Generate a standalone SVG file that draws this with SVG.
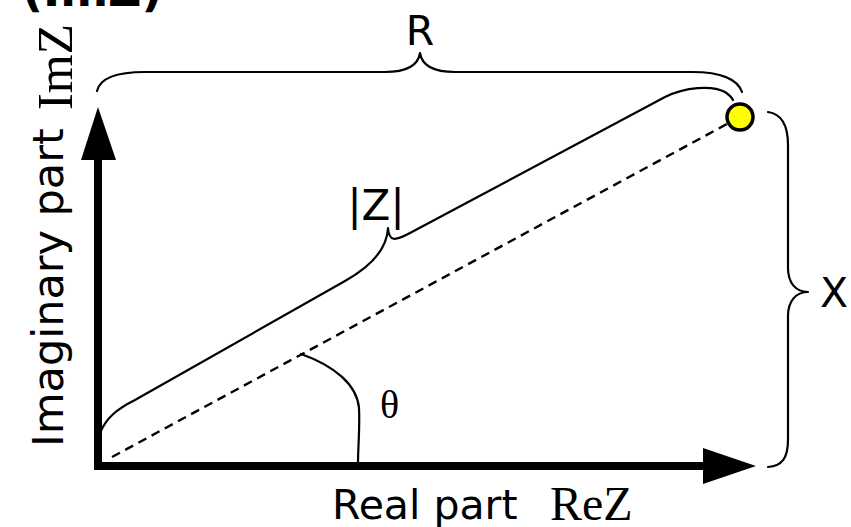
<svg xmlns="http://www.w3.org/2000/svg" width="851" height="527" viewBox="0 0 851 527">
  <style>
    .sans { font-family: "DejaVu Sans", Verdana, sans-serif; fill: #000; }
    .serif { font-family: "Liberation Serif", "Times New Roman", serif; fill: #000; }
    .brace { fill: none; stroke: #000; stroke-width: 2.2; stroke-linecap: round; stroke-linejoin: round; }
    .axis { stroke: #000; stroke-width: 8; }
    .dash { fill: none; stroke: #000; stroke-width: 2.4; stroke-dasharray: 9 6; }
  </style>
  <rect width="851" height="527" fill="#fff"/>

  <g id="title">
    <text class="sans" x="22" y="6" font-size="46" font-weight="bold">(ImZ)</text>
  </g>

  <g id="connectors">
    <line class="dash" x1="112" y1="457" x2="727" y2="124"/>
    <path id="brace-R" class="brace" d="M 97,91 C 100,78 115,72 145,72 L 385,72 C 405,72 418,66 420,53 C 422,66 435,72 455,72 L 692,72 C 722,72 738,80 742,92"/>
    <path id="brace-Z" class="brace" d="M 100,433 C 106,418 117,409 135,400 L 345,281 C 370,267 387,250 388,228 C 389,242 395,241 410,233 L 665,97 C 685,87 712,85 725,92 Q 731,96 733,100"/>
    <path id="brace-X" class="brace" d="M 768,112 C 782,114 788,125 788,145 L 788,268 C 788,283 796,292 808,292 C 796,292 788,301 788,316 L 788,440 C 788,458 782,466 768,467"/>
    <path id="theta-arc" class="brace" d="M 301,354 C 335,366 357,385 359,408 C 360,428 358,446 358,464"/>
  </g>

  <g id="axes">
    <line class="axis" x1="98" y1="470" x2="98" y2="150"/>
    <polygon points="98,107 81,160 116,160" fill="#000"/>
    <line class="axis" x1="94" y1="466" x2="712" y2="466"/>
    <polygon points="756,466 703,448 703,484" fill="#000"/>
  </g>

  <g id="point">
    <circle cx="740" cy="117" r="13" fill="#ffff00" stroke="#000" stroke-width="3.5"/>
  </g>

  <g id="labels">
    <text class="sans" x="420" y="45" font-size="41" text-anchor="middle">R</text>
    <text class="sans" x="376" y="220" font-size="42" text-anchor="middle">|Z|</text>
    <text class="sans" x="820" y="307" font-size="41">X</text>
    <text class="serif" x="380" y="418" font-size="40">θ</text>
    <text class="sans" x="332" y="519" font-size="41">Real part</text>
    <text class="serif" x="550" y="520" font-size="48">ReZ</text>
    <text class="sans" transform="translate(63,447) rotate(-90)" font-size="43">Imaginary part</text>
    <text class="serif" transform="translate(72,110) rotate(-90)" font-size="50">ImZ</text>
  </g>
</svg>
